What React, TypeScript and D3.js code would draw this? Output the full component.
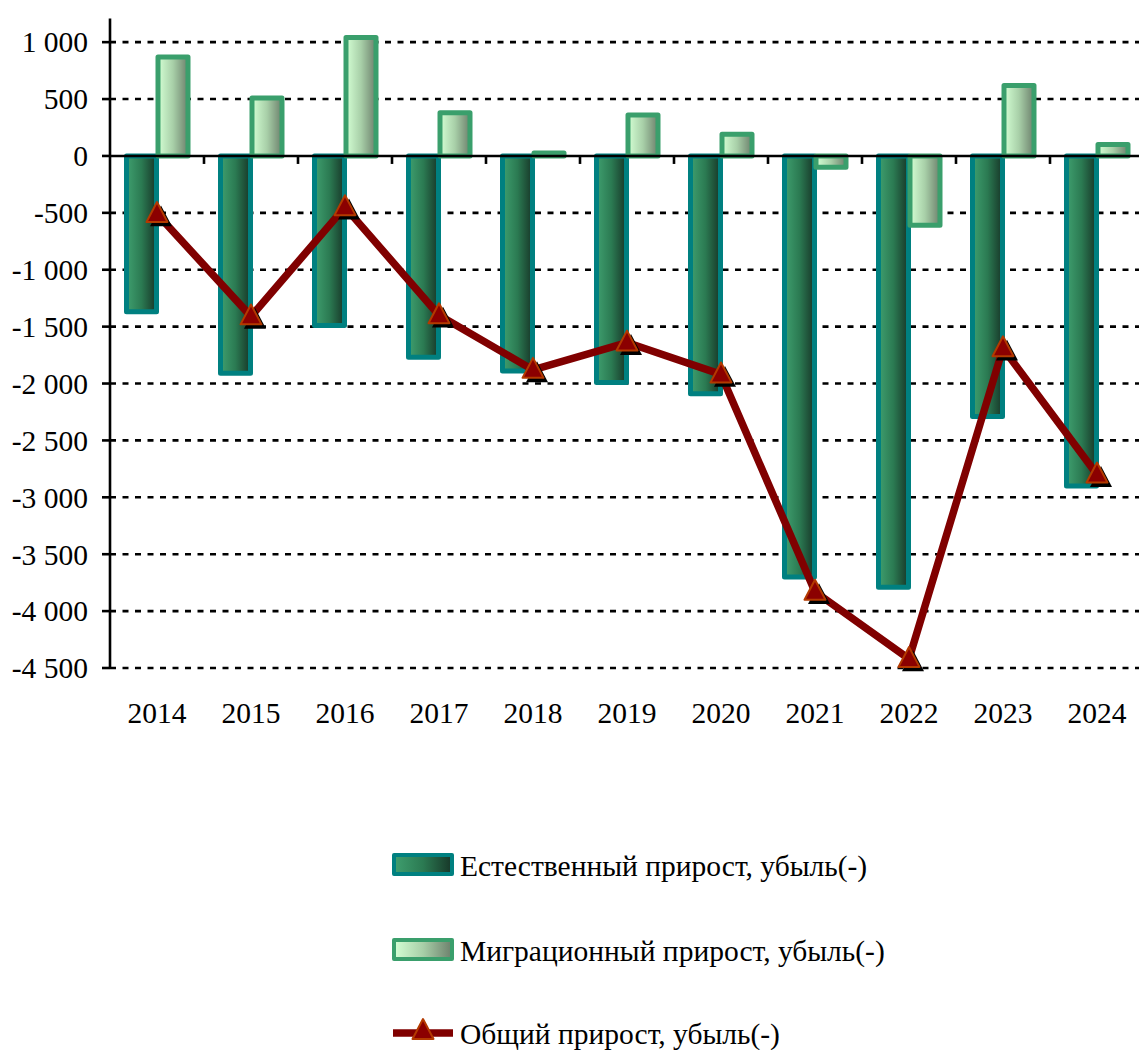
import React from "react";
import * as d3 from "d3";

const years = ["2014","2015","2016","2017","2018","2019","2020","2021","2022","2023","2024"];
const naturalGrowth = [-1370,-1910,-1490,-1770,-1890,-1990,-2090,-3700,-3790,-2290,-2900];
const migrationGrowth = [870,510,1040,380,25,360,190,-100,-610,620,100];
const totalGrowth = [-510,-1410,-450,-1400,-1880,-1640,-1920,-3830,-4420,-1690,-2800];
const yTicks = [1000,500,0,-500,-1000,-1500,-2000,-2500,-3000,-3500,-4000,-4500];
const legendLabels = ["Естественный прирост, убыль(-)","Миграционный прирост, убыль(-)","Общий прирост, убыль(-)"];

const fmt = (v: number) => {
  const s = Math.abs(v).toString().replace(/\B(?=(\d{3})+(?!\d))/g, " ");
  return (v < 0 ? "-" : "") + s;
};

export default function App() {
  const W = 1139, H = 1050;
  const left = 110, right = 1144, top = 19.4, bottom = 668;
  const x = d3.scaleBand<string>().domain(years).range([left, right]);
  const y = d3.scaleLinear().domain([-4500, 1200]).range([bottom, top]);
  const y0 = y(0);
  const font = "'Liberation Serif', 'Times New Roman', serif";
  const fs = 29.5;
  const bw = 30;
  const tri = (cx: number, cy: number, s: number) => {
    const h = s * 0.95;
    return `M${cx},${cy - h * 0.6} L${cx + s / 2},${cy + h * 0.4} L${cx - s / 2},${cy + h * 0.4} Z`;
  };
  const line = d3.line<number>()
    .x((_, i) => (x(years[i]) as number) + x.bandwidth() / 2)
    .y((d) => y(d));

  return (
    <svg width={W} height={H} style={{ position: "absolute", left: 0, top: 0 }}>
      <defs>
        <linearGradient id="gNat" x1="0" x2="1" y1="0" y2="0">
          <stop offset="0" stopColor="#3f9f6f" />
          <stop offset="0.5" stopColor="#2b7a52" />
          <stop offset="1" stopColor="#173628" />
        </linearGradient>
        <linearGradient id="gMig" x1="0" x2="1" y1="0" y2="0">
          <stop offset="0" stopColor="#d4ffd4" />
          <stop offset="0.5" stopColor="#a8cfa8" />
          <stop offset="1" stopColor="#6c806c" />
        </linearGradient>
      </defs>
      <rect x={0} y={0} width={W} height={H} fill="#fff" />
      {yTicks.filter((t) => t !== 0).map((t) => (
        <line key={t} x1={left} x2={W} y1={y(t)} y2={y(t)} stroke="#000" strokeWidth={2.6} strokeDasharray="6,6.5" />
      ))}
      <line x1={left} x2={left} y1={top - 1} y2={bottom + 1} stroke="#000" strokeWidth={2.6} />
      {yTicks.map((t) => (
        <g key={"t" + t}>
          <line x1={left - 8} x2={left} y1={y(t)} y2={y(t)} stroke="#000" strokeWidth={2.6} />
          <text x={88} y={y(t)} dy="0.35em" textAnchor="end" fontFamily={font} fontSize={fs} fill="#000">{fmt(t)}</text>
        </g>
      ))}
      {years.map((yr, i) => {
        const c = (x(yr) as number) + x.bandwidth() / 2;
        const n = naturalGrowth[i];
        const m = migrationGrowth[i];
        return (
          <g key={"b" + yr}>
            <rect x={c - bw - 0.5} y={Math.min(y(n), y0)} width={bw} height={Math.abs(y(n) - y0)}
              fill="url(#gNat)" stroke="#008080" strokeWidth={5} strokeLinejoin="round" />
            <rect x={c + 1} y={Math.min(y(m), y0)} width={bw} height={Math.abs(y(m) - y0)}
              fill="url(#gMig)" stroke="#3a9f6c" strokeWidth={5} strokeLinejoin="round" />
          </g>
        );
      })}
      <line x1={left} x2={right} y1={y0} y2={y0} stroke="#000" strokeWidth={2.6} />
      {years.map((yr) => (
        <line key={"xt" + yr} x1={(x(yr) as number) + x.bandwidth()} x2={(x(yr) as number) + x.bandwidth()} y1={y0} y2={y0 + 8} stroke="#000" strokeWidth={2.6} />
      ))}
      {years.map((yr) => (
        <text key={"xl" + yr} x={(x(yr) as number) + x.bandwidth() / 2} y={713} dy="0.35em" textAnchor="middle" fontFamily={font} fontSize={fs} fill="#000">{yr}</text>
      ))}
      <path d={line(totalGrowth) as string} fill="none" stroke="#800000" strokeWidth={7.5} strokeLinejoin="round" />
      {totalGrowth.map((v, i) => {
        const cx = (x(years[i]) as number) + x.bandwidth() / 2;
        const cy = y(v);
        return (
          <g key={"m" + i}>
            <path d={tri(cx + 4, cy + 4, 22)} fill="#000" />
            <path d={tri(cx, cy, 21)} fill="#8b0000" stroke="#b33a00" strokeWidth={2} strokeLinejoin="round" />
          </g>
        );
      })}
      <rect x={394} y={855} width={58} height={19} fill="url(#gNat)" stroke="#008080" strokeWidth={4} strokeLinejoin="round" />
      <text x={460} y={866} dy="0.35em" fontFamily={font} fontSize={fs} fill="#000">{legendLabels[0]}</text>
      <rect x={394} y={940} width={58} height={19} fill="url(#gMig)" stroke="#3a9f6c" strokeWidth={4} strokeLinejoin="round" />
      <text x={460} y={951} dy="0.35em" fontFamily={font} fontSize={fs} fill="#000">{legendLabels[1]}</text>
      <line x1={393} x2={453} y1={1033} y2={1033} stroke="#800000" strokeWidth={7.5} />
      <path d={tri(423, 1031, 21)} fill="#8b0000" stroke="#b33a00" strokeWidth={2} strokeLinejoin="round" />
      <text x={460} y={1034} dy="0.35em" fontFamily={font} fontSize={fs} fill="#000">{legendLabels[2]}</text>
    </svg>
  );
}
